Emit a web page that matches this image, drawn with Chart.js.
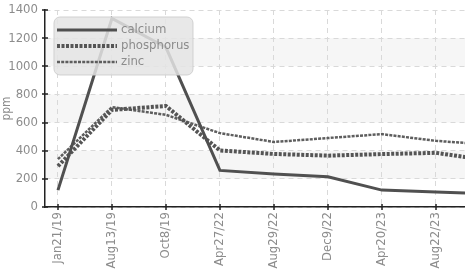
<!DOCTYPE html>
<html>
<head>
<meta charset="utf-8">
<script src="https://cdn.jsdelivr.net/npm/chart.js@4/dist/chart.umd.min.js"></script>
<style>
  html, body { margin: 0; padding: 0; background: #fff; overflow: hidden; }
  #wrap { position: relative; width: 465px; height: 273px; }
</style>
</head>
<body>
<div id="wrap"><canvas id="chart"></canvas></div>
<script>
// --- data ---
const tickLabels = ['Jan21/19', 'Aug13/19', 'Oct8/19', 'Apr27/22', 'Aug29/22', 'Dec9/22', 'Apr20/23', 'Aug22/23'];
// last value of each series sits just past the right edge of the picture
const calcium    = [120, 1340, 1135, 260, 235, 215, 120, 107, 93];
const phosphorus = [290, 690, 718, 402, 377, 365, 376, 385, 330];
const zinc       = [340, 710, 655, 525, 462, 490, 518, 470, 443];
const yTicks     = [0, 200, 400, 600, 800, 1000, 1200, 1400];

const FONT = "'Liberation Sans Narrow', 'DejaVu Sans Condensed', 'Arial Narrow', sans-serif";
const GREY_TEXT = '#8c8c8c';

const toPoints = arr => arr.map((y, i) => ({ x: i, y }));

// light horizontal bands behind the grid
const bandsPlugin = {
    id: 'bands',
    beforeDraw(chart) {
        const { ctx, chartArea: a, scales: { y } } = chart;
        ctx.save();
        ctx.fillStyle = '#f6f6f6';
        for (let v = 200; v < 1400; v += 400) {
            const top = y.getPixelForValue(v + 200);
            const bottom = y.getPixelForValue(v);
            ctx.fillRect(a.left, top, a.right - a.left, bottom - top);
        }
        ctx.restore();
    }
};

// tick marks that cross the axis lines
const crossTicksPlugin = {
    id: 'crossTicks',
    afterDraw(chart) {
        const { ctx, chartArea: a, scales: { x, y } } = chart;
        ctx.save();
        ctx.strokeStyle = '#222';
        ctx.lineWidth = 1.5;
        ctx.beginPath();
        y.ticks.forEach(t => {
            const py = Math.round(y.getPixelForValue(t.value));
            ctx.moveTo(a.left - 3, py); ctx.lineTo(a.left + 3, py);
        });
        x.ticks.forEach(t => {
            const px = Math.round(x.getPixelForValue(t.value));
            ctx.moveTo(px, a.bottom - 3); ctx.lineTo(px, a.bottom + 3);
        });
        ctx.stroke();
        ctx.restore();
    }
};

// legend box floating inside the plot, drawn over the lines
const boxLegendPlugin = {
    id: 'boxLegend',
    afterDatasetsDraw(chart) {
        const { ctx, chartArea: a } = chart;
        const bx = a.left + 9, by = a.top + 7, bw = 139, bh = 58;
        ctx.save();
        ctx.beginPath();
        ctx.roundRect(bx, by, bw, bh, 6);
        ctx.fillStyle = 'rgba(228,228,228,0.85)';
        ctx.fill();
        ctx.strokeStyle = 'rgba(205,205,205,0.9)';
        ctx.lineWidth = 1;
        ctx.stroke();
        chart.data.datasets.forEach((ds, i) => {
            const ly = by + 13 + i * 16;
            ctx.beginPath();
            ctx.setLineDash(ds.borderDash || []);
            ctx.strokeStyle = ds.borderColor;
            ctx.lineWidth = ds.borderWidth;
            ctx.moveTo(bx + 3, ly);
            ctx.lineTo(bx + 63, ly);
            ctx.stroke();
            ctx.setLineDash([]);
            ctx.fillStyle = GREY_TEXT;
            ctx.font = '13px ' + FONT;
            ctx.textBaseline = 'middle';
            ctx.fillText(ds.label, bx + 67, ly);
        });
        ctx.restore();
    }
};

new Chart(document.getElementById('chart'), {
    type: 'line',
    data: {
        datasets: [
            { label: 'calcium', data: toPoints(calcium), borderColor: '#505050', borderWidth: 3 },
            { label: 'phosphorus', data: toPoints(phosphorus), borderColor: '#555555', borderWidth: 4, borderDash: [3, 1.5] },
            { label: 'zinc', data: toPoints(zinc), borderColor: '#5e5e5e', borderWidth: 2.5, borderDash: [3, 1.2] }
        ]
    },
    options: {
        responsive: true,
        maintainAspectRatio: false,
        animation: false,
        layout: { padding: { top: 10, right: 0, left: 0, bottom: 0 } },
        elements: { point: { radius: 0 }, line: { tension: 0 } },
        plugins: { legend: { display: false }, tooltip: { enabled: false } },
        scales: {
            x: {
                type: 'linear',
                min: -0.24,
                max: 7.54,
                afterFit: s => { s.height = 66; s.paddingRight = 0; s.paddingLeft = 0; },
                ticks: {
                    stepSize: 1,
                    includeBounds: false,
                    autoSkip: false,
                    minRotation: 90,
                    maxRotation: 90,
                    padding: 5,
                    color: GREY_TEXT,
                    font: { family: FONT, size: 13 },
                    callback: v => tickLabels[v] ?? ''
                },
                grid: { color: '#d9d9d9', lineWidth: 1, tickLength: 0 },
                border: { color: '#222', width: 1.5, dash: [5, 4] }
            },
            y: {
                min: 0,
                max: 1400,
                afterFit: s => { s.width = 45; s.paddingTop = 0; s.paddingBottom = 0; },
                afterBuildTicks: s => { s.ticks = yTicks.map(v => ({ value: v })); },
                ticks: {
                    padding: 7,
                    color: GREY_TEXT,
                    font: { family: FONT, size: 13 },
                    callback: v => String(v)
                },
                title: {
                    display: true,
                    text: 'ppm',
                    color: GREY_TEXT,
                    font: { family: FONT, size: 12 },
                    padding: 0
                },
                grid: { color: '#d9d9d9', lineWidth: 1, tickLength: 0 },
                border: { color: '#222', width: 1.5, dash: [5, 4] }
            }
        }
    },
    plugins: [bandsPlugin, crossTicksPlugin, boxLegendPlugin]
});
</script>
</body>
</html>
